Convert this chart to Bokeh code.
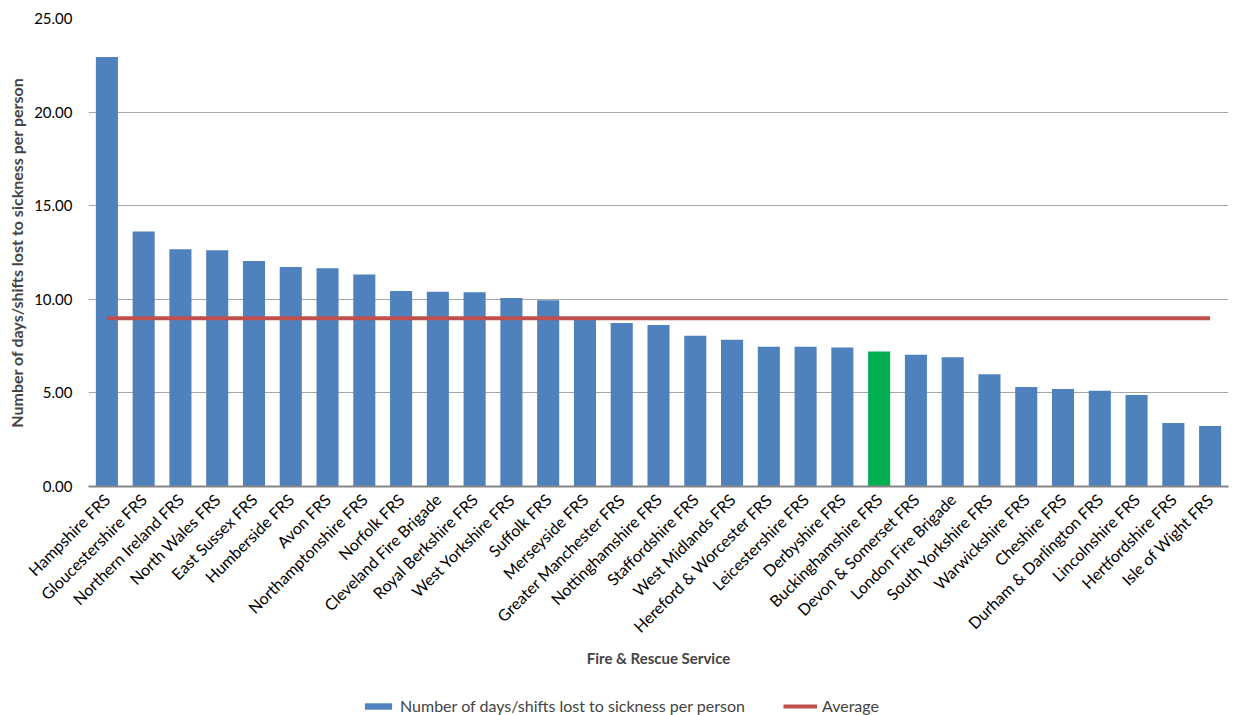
import math
from bokeh.plotting import figure
from bokeh.layouts import column
from bokeh.models import (ColumnDataSource, FactorRange, Range1d, Legend, LegendItem,
                          NumeralTickFormatter, FixedTicker)
from bokeh.embed import file_html
from bokeh.resources import INLINE

services = [
    "Hampshire FRS", "Gloucestershire FRS", "Northern Ireland FRS", "North Wales FRS",
    "East Sussex FRS", "Humberside FRS", "Avon FRS", "Northamptonshire FRS", "Norfolk FRS",
    "Cleveland Fire Brigade", "Royal Berkshire FRS", "West Yorkshire FRS", "Suffolk FRS",
    "Merseyside FRS", "Greater Manchester FRS", "Nottinghamshire FRS", "Staffordshire FRS",
    "West Midlands FRS", "Hereford & Worcester FRS", "Leicestershire FRS", "Derbyshire FRS",
    "Buckinghamshire FRS", "Devon & Somerset FRS", "London Fire Brigade",
    "South Yorkshire FRS", "Warwickshire FRS", "Cheshire FRS", "Durham & Darlington FRS",
    "Lincolnshire FRS", "Hertfordshire FRS", "Isle of Wight FRS",
]
days_lost = [
    22.95, 13.62, 12.68, 12.62, 12.05, 11.73, 11.66, 11.32, 10.45, 10.40, 10.38, 10.07,
    9.95, 8.92, 8.74, 8.63, 8.05, 7.84, 7.46, 7.46, 7.43, 7.21, 7.04, 6.91, 6.00, 5.32,
    5.21, 5.11, 4.89, 3.39, 3.23,
]
highlight = "Buckinghamshire FRS"
average_value = 8.99
y_ticks = [0, 5, 10, 15, 20, 25]
series_label = "Number of days/shifts lost to sickness per person"
average_label = "Average"

BLUE = "#4F81BD"
GREEN = "#00B050"
RED = "#C0504D"
FONT = "Lato"

colors = [GREEN if s == highlight else BLUE for s in services]
src = ColumnDataSource(dict(x=services, y=days_lost, color=colors))
avg_src = ColumnDataSource(dict(x=services, y=[average_value] * len(services)))

# ---- main chart ----
p = figure(x_range=FactorRange(*services, range_padding=0), y_range=Range1d(0, 25),
           frame_width=1140, frame_height=468, output_backend="svg",
           toolbar_location=None, min_border_left=88, min_border_top=18,
           min_border_right=2, min_border_bottom=206)

p.vbar(x="x", top="y", width=0.6, color="color", line_color=None, source=src)
p.line(x="x", y="y", line_color=RED, line_width=4, source=avg_src)

p.outline_line_color = None
p.background_fill_color = "white"
p.border_fill_color = "white"

p.xgrid.grid_line_color = None
p.ygrid.grid_line_color = "#A6A6A6"
p.ygrid.grid_line_width = 1

p.yaxis.ticker = FixedTicker(ticks=y_ticks)
p.yaxis.formatter = NumeralTickFormatter(format="0.00")
p.yaxis.axis_line_color = None
p.yaxis.major_tick_line_color = None
p.yaxis.minor_tick_line_color = None
p.yaxis.major_tick_out = 0
p.yaxis.major_tick_in = 0
p.yaxis.major_label_text_font = FONT
p.yaxis.major_label_text_font_size = "15px"
p.yaxis.major_label_text_color = "#000000"
p.yaxis.major_label_standoff = 16
p.yaxis.axis_label = "Number of days/shifts lost to sickness per person"
p.yaxis.axis_label_text_font = FONT
p.yaxis.axis_label_text_font_style = "bold"
p.yaxis.axis_label_text_font_size = "16px"
p.yaxis.axis_label_standoff = 5

p.xaxis.axis_line_color = "#868686"
p.xaxis.axis_line_width = 2
p.xaxis.major_tick_line_color = None
p.xaxis.minor_tick_line_color = None
p.xaxis.major_tick_out = 0
p.xaxis.major_tick_in = 0
p.xaxis.major_label_orientation = math.pi / 4
p.xaxis.major_label_text_font = FONT
p.xaxis.major_label_text_font_size = "16px"
p.xaxis.major_label_text_color = "#000000"
p.xaxis.major_label_standoff = 10
p.xaxis.axis_label = "Fire & Rescue Service"
p.xaxis.axis_label_text_font = FONT
p.xaxis.axis_label_text_font_style = "bold"
p.xaxis.axis_label_text_font_size = "15px"
p.xaxis.axis_label_standoff = 3

# ---- legend strip (own small figure; its y view lies far above every mark) ----
lg = figure(x_range=p.x_range, y_range=Range1d(100, 101), width=1230, height=23,
            output_backend="svg", toolbar_location=None,
            min_border=0, x_axis_location=None, y_axis_location=None)
lg.outline_line_color = None
lg.grid.visible = False
lg_bar = lg.vbar(x="x", top="y", width=0.6, color="color", line_color=None, source=src)
lg_line = lg.line(x="x", y="y", line_color=RED, line_width=4, source=avg_src)

legend = Legend(items=[
    LegendItem(label=series_label, renderers=[lg_bar], index=0),
    LegendItem(label=average_label, renderers=[lg_line]),
], orientation="horizontal", location=(273, 0))
legend.label_text_font = FONT
legend.label_text_font_size = "16px"
legend.label_height = 16
legend.glyph_width = 34
legend.glyph_height = 8
legend.spacing = 38
legend.label_standoff = 5
legend.border_line_color = None
legend.background_fill_alpha = 0
legend.padding = 2
legend.margin = 0
lg.add_layout(legend, "center")

layout = column(p, lg, spacing=0)
open("out.html", "w").write(file_html(layout, INLINE))
